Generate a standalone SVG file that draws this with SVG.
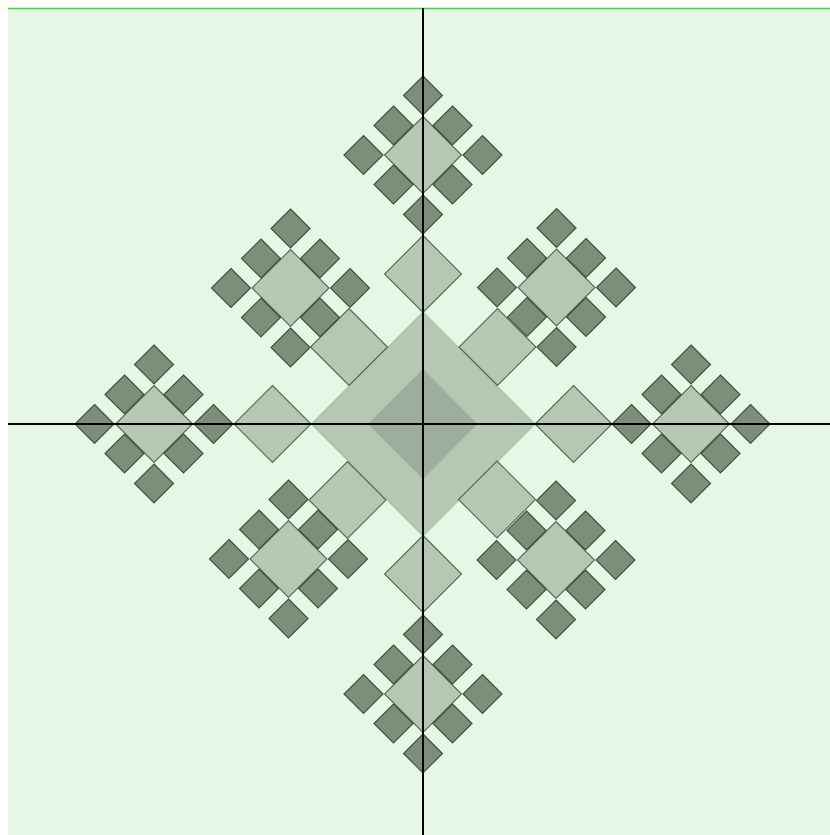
<svg xmlns="http://www.w3.org/2000/svg" xmlns:xlink="http://www.w3.org/1999/xlink" width="830" height="835" viewBox="0 0 830 835">
<style>
.bg{fill:#e5f8e5;}
.top{stroke:#3ddc3d;stroke-width:1.5;}
.light{fill:#b4c8b3;stroke:#3f533f;stroke-width:1.1;stroke-opacity:0.85;}
.dark{fill:#7b8f7a;stroke:#354735;stroke-width:1.2;stroke-opacity:0.9;}
.big{fill:#b4c8b3;stroke:#9cc79c;stroke-width:1.2;}
.core{fill:#9daf9c;stroke:#98ad97;stroke-width:1;}
.axis{stroke:#000;stroke-width:2;fill:none;}
</style>
<defs>
<path id="s" class="dark" d="M0,-19.5 L19.5,0 L0,19.5 L-19.5,0Z"/>
<path id="m" class="light" d="M0,-38.5 L38.5,0 L0,38.5 L-38.5,0Z"/>
<g id="cluster">
<use href="#m"/>
<use href="#s" x="0" y="-59.5"/>
<use href="#s" x="0" y="59.5"/>
<use href="#s" x="-59.5" y="0"/>
<use href="#s" x="59.5" y="0"/>
<use href="#s" x="-29.5" y="-29.5"/>
<use href="#s" x="29.5" y="-29.5"/>
<use href="#s" x="-29.5" y="29.5"/>
<use href="#s" x="29.5" y="29.5"/>
</g>
</defs>
<rect class="bg" x="8" y="8" width="822" height="827"/>
<line class="top" x1="8" y1="8.5" x2="830" y2="8.5"/>
<g id="center">
<path class="big" d="M423,312.2 L535,424 L423,535.8 L311.5,424Z"/>
<path class="core" d="M423,369.5 L477,424 L423,478.5 L368.5,424Z"/>
</g>
<g id="medium-top"><use href="#m" x="423" y="274"/></g>
<g id="medium-bottom"><use href="#m" x="423" y="574"/></g>
<g id="medium-left"><use href="#m" x="272.5" y="424"/></g>
<g id="medium-right"><use href="#m" x="573.5" y="424"/></g>
<g id="medium-ul"><use href="#m" x="349" y="347"/></g>
<g id="medium-ur"><use href="#m" x="497.5" y="347"/></g>
<g id="medium-ll"><use href="#m" x="347.5" y="500"/></g>
<g id="medium-lr"><use href="#m" x="497" y="499.5"/></g>
<g id="cluster-top"><use href="#cluster" transform="translate(423,155)"/></g>
<g id="cluster-bottom"><use href="#cluster" transform="translate(423,694)"/></g>
<g id="cluster-left"><use href="#cluster" transform="translate(154,424)"/></g>
<g id="cluster-right"><use href="#cluster" transform="translate(691,424)"/></g>
<g id="cluster-ul"><use href="#cluster" transform="translate(290.5,288)"/></g>
<g id="cluster-ur"><use href="#cluster" transform="translate(556.5,287.5)"/></g>
<g id="cluster-ll"><use href="#cluster" transform="translate(288.5,559)"/></g>
<g id="cluster-lr"><use href="#cluster" transform="translate(556,560)"/></g>
<g id="connectors">
<line class="axis" x1="423" y1="8" x2="423" y2="835"/>
<line class="axis" x1="8" y1="424" x2="830" y2="424"/>
</g>
</svg>
